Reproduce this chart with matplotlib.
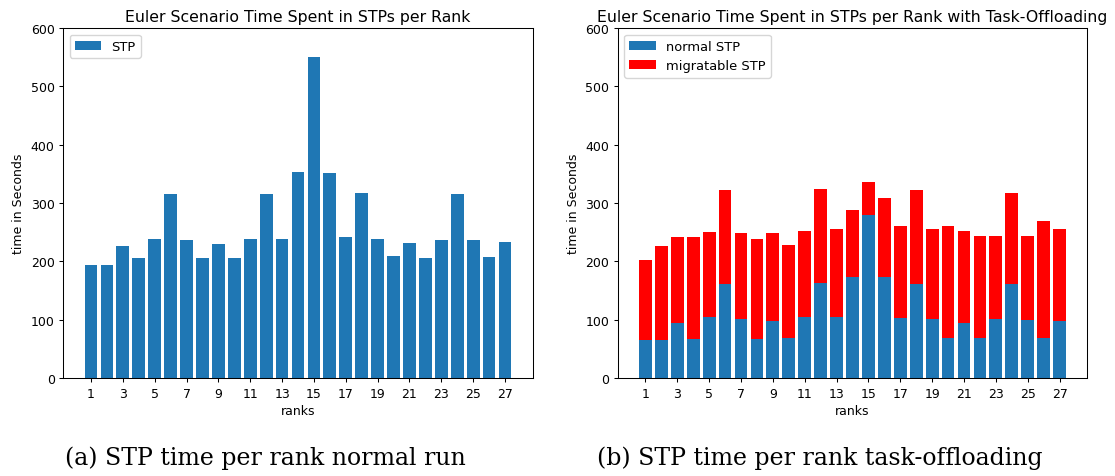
import matplotlib
matplotlib.use("Agg")
import matplotlib.pyplot as plt
import numpy as np

ranks = list(range(1, 28))
stp_normal_run = [194, 194, 226, 205, 238, 316, 236, 205, 230, 205, 238, 316, 238, 353, 550,
                  352, 241, 317, 238, 210, 231, 205, 236, 315, 236, 207, 233]
normal_stp = [65, 65, 95, 67, 105, 161, 101, 67, 98, 69, 105, 163, 105, 173, 280,
              173, 103, 161, 101, 69, 95, 69, 101, 161, 100, 69, 97]
total_offload = [202, 226, 241, 241, 250, 323, 248, 238, 248, 228, 252, 324, 255, 288, 336,
                 308, 260, 323, 256, 261, 252, 243, 243, 318, 243, 269, 255]
migratable_stp = [t - n for t, n in zip(total_offload, normal_stp)]
xticks = list(range(1, 28, 2))
yticks = list(range(0, 601, 100))

TICK_FS = 9.0
LABEL_FS = 9.0
LEG_FS = 9.4
TITLE_FS = 11.3
fig = plt.figure(figsize=(11.15, 4.77), dpi=100)
W, H = 1115, 477
ax1 = fig.add_axes([63.3 / W, (H - 379) / H, 469.4 / W, 350 / H])
ax2 = fig.add_axes([617.7 / W, (H - 379) / H, 469.6 / W, 350 / H])

ax1.bar(ranks, stp_normal_run, color="#1f77b4", label="STP")
ax2.bar(ranks, normal_stp, color="#1f77b4", label="normal STP")
ax2.bar(ranks, migratable_stp, bottom=normal_stp, color="red", label="migratable STP")

titles = ["Euler Scenario Time Spent in STPs per Rank",
          "Euler Scenario Time Spent in STPs per Rank with Task-Offloading"]
for ax, t in zip([ax1, ax2], titles):
    ax.set_ylim(0, 600)
    ax.set_yticks(yticks)
    ax.set_xticks(xticks)
    ax.tick_params(labelsize=TICK_FS, length=3.2, width=0.75, pad=3)
    ax.set_xlabel("ranks", fontsize=LABEL_FS, labelpad=3)
    ax.set_ylabel("time in Seconds", fontsize=LABEL_FS, labelpad=4)
    ax.set_title(t, fontsize=TITLE_FS, pad=5)
    for s in ax.spines.values():
        s.set_linewidth(0.75)
    ax.legend(loc="upper left", fontsize=LEG_FS)

fig.text(265 / W, 1 - 458 / H, "(a) STP time per rank normal run", ha="center", va="center",
         fontsize=17, family="DejaVu Serif")
fig.text(820 / W, 1 - 458 / H, "(b) STP time per rank task-offloading", ha="center", va="center",
         fontsize=17, family="DejaVu Serif")

fig.savefig("out.png", dpi=100)
